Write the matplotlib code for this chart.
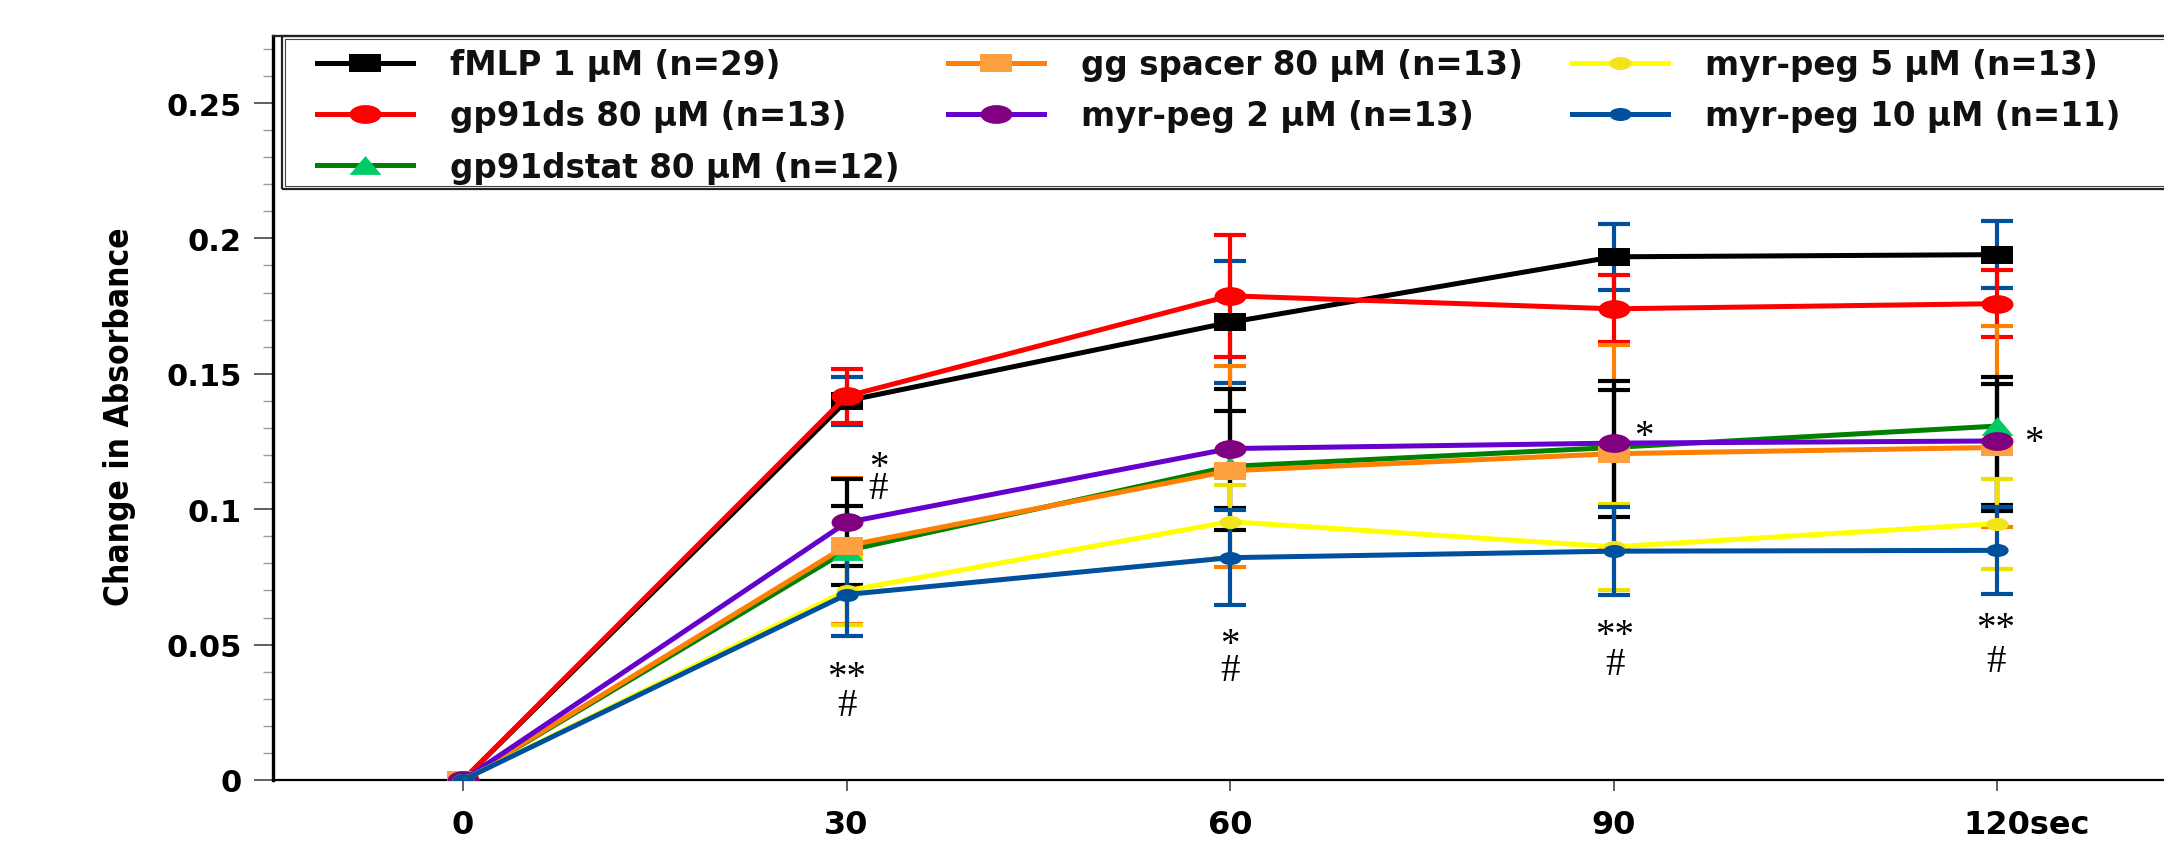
import matplotlib
matplotlib.use("Agg")
import matplotlib.pyplot as plt
from matplotlib.path import Path
from matplotlib.transforms import Affine2D, ScaledTranslation
from matplotlib.patches import Rectangle
from matplotlib.ticker import MultipleLocator, FixedLocator

# ---------------- data ----------------
time_s = [0, 30, 60, 90, 120]
x_tick_labels = ["0", "30", "60", "90", "120sec"]
y_ticks = [0, 0.05, 0.1, 0.15, 0.2, 0.25]
y_tick_labels = ["0", "0.05", "0.1", "0.15", "0.2", "0.25"]

labels = ["fMLP 1 μM (n=29)", "gp91ds 80 μM (n=13)", "gp91dstat 80 μM (n=12)",
          "gg spacer 80 μM (n=13)", "myr-peg 2 μM (n=13)", "myr-peg 5 μM (n=13)",
          "myr-peg 10 μM (n=11)"]

fmlp = [0, 0.1400, 0.1690, 0.1932, 0.1940]
fmlp_err = [0, 0.0090, 0.0225, 0.0121, 0.0124]
gp91ds = [0, 0.1417, 0.1788, 0.1740, 0.1759]
gp91ds_err = [0, 0.0100, 0.0225, 0.0123, 0.0123]
gp91dstat = [0, 0.0847, 0.1158, 0.1228, 0.1307]
gp91dstat_err = [0, 0.0270, 0.0372, 0.0378, 0.0371]
ggspacer = [0, 0.0865, 0.1142, 0.1205, 0.1228]
ggspacer_err = [0, 0.0146, 0.0219, 0.0235, 0.0234]
myr2 = [0, 0.0951, 0.1224, 0.1244, 0.1252]
myr2_err = [0, 0.0160, 0.0220, 0.0230, 0.0237]
myr5 = [0, 0.0699, 0.0954, 0.0861, 0.0947]
myr5_err = [0, 0.0125, 0.0136, 0.0160, 0.0166]
myr10 = [0, 0.0685, 0.0821, 0.0845, 0.0848]
myr10_err = [0, 0.0152, 0.0176, 0.0162, 0.0160]

# significance marks (stacked marks are one text)
ann_x = [32.5, 30.0, 60.0, 92.4, 90.1, 122.9, 119.9]
ann_y = [0.1115, 0.0328, 0.0452, 0.1307, 0.0480, 0.1283, 0.0498]
ann_text = ["*\n#", "**\n#", "*\n#", "*", "**\n#", "*", "**\n#"]
ann_gap = [0.40, 0.68, 0.60, 1.0, 0.72, 1.0, 0.85]

# ---------------- styles ----------------
SX = 1.7
ell = Path.unit_circle().transformed(Affine2D().scale(SX, 1.0))
sq = Path([(-SX, -1), (SX, -1), (SX, 1), (-SX, 1), (-SX, -1)],
          [Path.MOVETO, Path.LINETO, Path.LINETO, Path.LINETO, Path.CLOSEPOLY])
tri = Path([(-SX, -1), (SX, -1), (0, 1), (-SX, -1)],
           [Path.MOVETO, Path.LINETO, Path.LINETO, Path.CLOSEPOLY])

series = [
    (fmlp, fmlp_err, "#000000", sq, "#000000", 23, "#00509e"),
    (gp91ds, gp91ds_err, "#ff0000", ell, "#ff0000", 23, "#ff0000"),
    (gp91dstat, gp91dstat_err, "#008000", tri, "#00cc66", 23, "#ff8000"),
    (ggspacer, ggspacer_err, "#ff7f00", sq, "#ffa040", 23, "#000000"),
    (myr2, myr2_err, "#6600cc", ell, "#800080", 23, "#000000"),
    (myr5, myr5_err, "#ffff00", ell, "#f2e31a", 16, "#f0e000"),
    (myr10, myr10_err, "#00509e", ell, "#00509e", 16, "#00509e"),
]

W, H = 2164, 845
fig = plt.figure(figsize=(W / 100, H / 100), dpi=100)
fig.patch.set_facecolor("white")

px0 = 463.0
px_per_s = 383.5 / 30
left_px, right_px = 273.0, px0 + 135 * px_per_s
bot_px, top_px = 781.0, 37.0
ax = fig.add_axes([left_px / W, 1 - bot_px / H, (right_px - left_px) / W,
                   (bot_px - top_px) / H])
ax.set_xlim(-(px0 - left_px) / px_per_s, 135)
ax.set_ylim(0, (bot_px - top_px) / 2708.0)

handles = []
for i, (y, e, lc, mk, mc, ms, ec) in enumerate(series):
    ax.errorbar(time_s, y, yerr=e, fmt="none", ecolor=ec, elinewidth=3,
                capsize=11.5, capthick=3, errorevery=(1, 1), zorder=2 + i * 0.01)
for i, (y, e, lc, mk, mc, ms, ec) in enumerate(series):
    h, = ax.plot(time_s, y, color=lc, lw=3.6, marker=mk, markersize=ms,
                 markerfacecolor=mc, markeredgewidth=0, zorder=3 + i * 0.1,
                 label=labels[i], solid_joinstyle="round")
    handles.append(h)

for xx, yy, tt, gap in zip(ann_x, ann_y, ann_text, ann_gap):
    txt = ax.text(xx, yy, tt, ha="center", va="center", fontsize=28,
                  family=["Liberation Serif", "DejaVu Serif"], color="black",
                  zorder=10, linespacing=gap)
    if "\n" not in tt:
        txt.set_transform(ax.transData + ScaledTranslation(0, -0.10, fig.dpi_scale_trans))

# axes style
ax.spines["right"].set_visible(False)
ax.spines["left"].set_linewidth(2.4)
ax.spines["bottom"].set_linewidth(1.6)
ax.spines["top"].set_linewidth(1.6)
ax.spines["top"].set_color("#222222")

ax.yaxis.set_major_locator(FixedLocator(y_ticks))
ax.set_yticklabels(y_tick_labels)
ax.yaxis.set_minor_locator(MultipleLocator(0.01))
ax.xaxis.set_major_locator(FixedLocator(time_s))
ax.set_xticklabels(x_tick_labels)

ax.tick_params(axis="y", which="major", direction="out", length=14, width=1.2,
               color="#444444", pad=8.5, labelsize=22)
ax.tick_params(axis="y", which="minor", direction="out", length=7, width=1.0,
               color="#9a9a9a")
ax.tick_params(axis="x", which="major", direction="out", length=8, width=1.2,
               color="#444444", pad=13, labelsize=23)
for lab in ax.get_xticklabels() + ax.get_yticklabels():
    lab.set_fontweight("bold")
    lab.set_family("DejaVu Sans")
last = ax.get_xticklabels()[-1]
last.set_transform(last.get_transform() + ScaledTranslation(0.30, 0, fig.dpi_scale_trans))

ax.set_ylabel("Change in Absorbance", fontsize=24, family="DejaVu Sans",
              fontstretch="condensed", fontweight="bold", va="center")
ax.yaxis.set_label_coords((119 - left_px) / (right_px - left_px),
                          (bot_px - 417) / (bot_px - top_px))

# legend
leg = fig.legend(handles=handles, labels=labels, ncol=3, loc="upper left",
                 bbox_to_anchor=(317 / W, 1 - 49 / H), bbox_transform=fig.transFigure,
                 frameon=False, borderaxespad=0, borderpad=0,
                 prop={"family": "DejaVu Sans", "weight": "bold", "size": 23.5},
                 handlelength=2.94, handletextpad=1.13, columnspacing=1.5,
                 labelspacing=0.56, numpoints=1)
for t in leg.get_texts():
    t.set_color("#111111")

fig.add_artist(Rectangle((282 / W, 1 - 190 / H), (2210 - 282) / W, (190 - 37) / H,
                         transform=fig.transFigure, fill=False, lw=1.6,
                         edgecolor="#222222", zorder=5))
fig.add_artist(Rectangle((285 / W, 1 - 187 / H), (2210 - 285) / W, (187 - 40) / H,
                         transform=fig.transFigure, fill=False, lw=0.8,
                         edgecolor="#444444", zorder=5))

fig.savefig("out.png", dpi=100, facecolor="white")
